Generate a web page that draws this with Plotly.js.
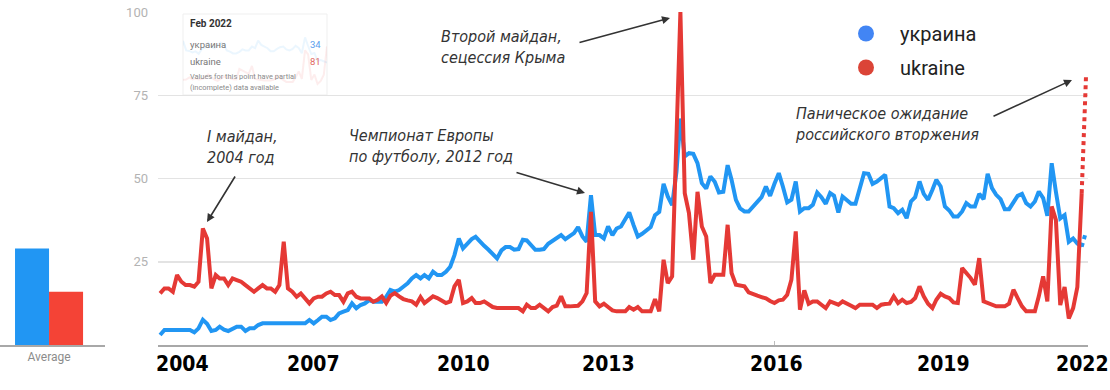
<!DOCTYPE html>
<html>
<head>
<meta charset="utf-8">
<script src="https://cdn.plot.ly/plotly-3.0.1.min.js"></script>
<style>
  html, body { margin: 0; padding: 0; background: #ffffff; }
  #chart { width: 1110px; height: 390px; }
</style>
</head>
<body>
<div id="chart"></div>
<script>
// ---------------- DATA ----------------
const startYear = 2004;            // first month: Jan 2004, monthly to Feb 2022
const seriesNames = ['украина', 'ukraine'];

const ukraina = [
  3,4.5,4.5,4.5,4.5,4.5,4.5,4.5,3.8,5,
  7.6,6.4,4.2,4.5,5.5,4.6,4.2,5,5.5,5.5,
  4.2,5,5,6,6.5,6.5,6.5,6.5,6.5,6.5,
  6.3,6.3,6.3,6.3,6.5,7.5,6.5,7.5,8.5,8.5,
  7.5,8,9.5,10,10.5,12.5,11,12,12.5,13.5,
  13,13,13,14.5,16.5,16,16.5,17.5,18.5,20,
  21,20,21,20,22,21,21,22,23.5,27,
  32,29,30.5,31.8,32.5,31,29.8,28.6,27.4,26,
  28.4,29.4,29.4,28.6,28.8,31.6,31.4,29.8,28.6,28.6,
  28.8,30.4,31.4,32,33,31.8,32.8,33.6,35.4,32.6,
  31,45,33,33,32,35.6,33,35,35.6,37.6,
  39.8,36,32.6,33.4,34.4,35.4,39,40,48.4,44.6,
  42,52,68,56.6,57.6,57.4,54.6,48.6,47,50.6,
  49,45.8,46,54,49.6,43.6,41,40.1,40.1,41.6,
  43.4,44.4,47.6,44.8,48.4,51.6,47.6,42.8,43.6,49.1,
  40.1,41.1,41.1,42.1,45.8,44.4,42.4,45.6,44.8,39.8,
  44.6,43.3,42.4,42.4,46.6,51.6,51.4,48.4,49.1,50.1,
  51.1,41.6,41.1,39.6,40.6,38.1,43.1,44.4,49.1,45.4,
  43.6,46.6,49.6,47.6,41.6,40.4,38.6,38.6,40.1,42.6,
  41.6,41.6,45.4,43.8,51.4,47.1,45.1,43.8,40.8,40.8,
  43.1,44.8,45.4,42.6,41.6,43.1,46.1,44.1,38.8,54.6,
  46,38,39,31,32,30.5,29.5,34
];

const ukraine = [
  15.5,17,17,16,21,19,18,18,17.5,19,
  35,32,17,21,20,20,18,20,19.5,19,
  18,17,16,17,18,17,17,16,18,31,
  17,16,14.5,15.5,14,12.5,14,14.5,14.5,15.5,
  16,15,15,13,15.5,16,14.5,14,14,14,
  13,13.6,14.6,12.6,14.8,15.6,14.6,13.8,13.4,13.1,
  12.1,14.4,12.6,13.6,14.6,14.1,13.3,12.6,13.1,17.6,
  19.6,12.6,13.1,14.1,12.6,12.6,13.1,12.1,11.4,11.1,
  11.1,11.1,11.1,11.1,11.1,10.1,12.1,11.1,11.1,12.1,
  11.1,10.1,11.4,11.8,14.6,11.6,11.6,11.6,11.8,13.1,
  15.6,40,13.1,11.6,12.4,11.4,10.4,10.1,10.1,10.1,
  11.4,10.6,11.4,10.1,10.1,10.1,13.8,10.1,25.6,18.6,
  20.6,58,100,45.6,39.6,25.6,46,35.6,32.6,18.6,
  21.1,21.1,21.1,36.1,21.6,18.1,17.8,17.6,15.8,15.2,
  14.8,14.4,14,13.2,12.6,13.4,13.6,15.1,19.6,34.1,
  10.6,16.4,12.4,13.1,13.1,12.1,11.1,13.1,12.6,12.1,
  13.1,12.6,11.8,11.1,12.1,12.1,12.1,12.1,11.1,12.1,
  12.3,12.4,14.6,12.6,13.6,12.6,12.9,14.1,17.6,14.6,
  12.4,11.1,13.6,15.4,14.6,14.1,12.8,12.6,23.1,21.6,
  20.1,18.1,26.1,13.1,12.6,11.8,11.6,11.6,11.6,12.4,
  16.6,14.1,11.6,10.1,10.1,10.1,14.6,20.6,13.1,41.6,
  37.6,12,17.4,8,11.1,17.4,45.6,81
];

const averageLabel = ['Average'];
const averages = [29, 16];                       // украина, ukraine

const yTickVals = [25, 50, 75, 100];
const yearLabels = ['2004', '2007', '2010', '2013', '2016', '2019', '2022'];

const tooltipTitle = 'Feb 2022';
const tooltipValues = [34, 81];
const tooltipNote = ['Values for this point have partial', '(incomplete) data available'];

const notes = [
  'I майдан,<br>2004 год',
  'Чемпионат Европы<br>по футболу, 2012 год',
  'Второй майдан,<br>сецессия Крыма',
  'Паническое ожидание<br>российского вторжения'
];

// ---------------- HELPERS ----------------
const months = ukraina.map((_, i) => {
  const y = startYear + Math.floor(i / 12);
  const m = (i % 12) + 1;
  return y + '-' + String(m).padStart(2, '0') + '-01';
});
const W = 1110, H = 390;
const px = v => v / W;            // pixel -> paper x
const py = v => 1 - v / H;        // pixel -> paper y

const BLUE = '#2196f3', RED = '#e53935';
const LBLUE = '#4285f4', LRED = '#db4437';
const last = ukraina.length - 1;

// ---------------- TRACES ----------------
const traces = [
  { x: months.slice(0, last), y: ukraina.slice(0, last), type: 'scatter', mode: 'lines',
    line: { color: BLUE, width: 4 }, xaxis: 'x', yaxis: 'y', showlegend: false, hoverinfo: 'skip' },
  { x: months.slice(last - 1), y: ukraina.slice(last - 1), type: 'scatter', mode: 'lines',
    line: { color: BLUE, width: 4, dash: 'dot' }, xaxis: 'x', yaxis: 'y', showlegend: false, hoverinfo: 'skip' },
  { x: months.slice(0, last), y: ukraine.slice(0, last), type: 'scatter', mode: 'lines',
    line: { color: RED, width: 4 }, xaxis: 'x', yaxis: 'y', showlegend: false, hoverinfo: 'skip' },
  { x: months.slice(last - 1), y: ukraine.slice(last - 1), type: 'scatter', mode: 'lines',
    line: { color: RED, width: 4, dash: 'dot' }, xaxis: 'x', yaxis: 'y', showlegend: false, hoverinfo: 'skip' },

  { x: averageLabel, y: [averages[0]], type: 'bar', marker: { color: '#2196f3' },
    xaxis: 'x2', yaxis: 'y2', showlegend: false, hoverinfo: 'skip' },
  { x: averageLabel, y: [averages[1]], type: 'bar', marker: { color: '#f44336' },
    xaxis: 'x2', yaxis: 'y2', showlegend: false, hoverinfo: 'skip' },

  // faint sparkline behind the tooltip
  { x: months.slice(170, last), y: ukraina.slice(170, last), type: 'scatter', mode: 'lines',
    line: { color: BLUE, width: 2 }, opacity: 0.09, xaxis: 'x3', yaxis: 'y3', showlegend: false, hoverinfo: 'skip' },
  { x: months.slice(170, last), y: ukraine.slice(170, last), type: 'scatter', mode: 'lines',
    line: { color: RED, width: 2 }, opacity: 0.09, xaxis: 'x3', yaxis: 'y3', showlegend: false, hoverinfo: 'skip' },

  // legend entries
  { x: [null], y: [null], type: 'scatter', mode: 'markers', name: seriesNames[0],
    marker: { color: LBLUE, size: 17 }, legendgroup: 'a', xaxis: 'x', yaxis: 'y' },
  { x: [null], y: [null], type: 'scatter', mode: 'markers', name: seriesNames[1],
    marker: { color: LRED, size: 17 }, legendgroup: 'b', xaxis: 'x', yaxis: 'y' }
];

// ---------------- LAYOUT ----------------
const noteFont = { family: 'DejaVu Sans Condensed, DejaVu Sans, sans-serif', size: 16, color: '#333333' };
const yearFont = { family: 'DejaVu Sans Condensed, sans-serif', size: 21, color: '#000000' };
const yearCenters = [182.5, 313.5, 463.5, 609, 776, 943.5, 1082.5];

const annotations = [];

yearLabels.forEach((t, k) => annotations.push({
  text: '<b>' + t + '</b>', xref: 'paper', yref: 'paper', x: px(yearCenters[k]), y: py(364),
  xanchor: 'center', yanchor: 'middle', showarrow: false, font: yearFont
}));

const notePos = [[205, 147], [347, 146], [439, 47], [793, 124]];
notes.forEach((t, k) => annotations.push({
  text: '<i>' + t + '</i>', xref: 'paper', yref: 'paper', x: px(notePos[k][0]), y: py(notePos[k][1]),
  xanchor: 'left', yanchor: 'middle', align: 'left', showarrow: false, font: noteFont
}));

// arrows: [head x, head y, tail x, tail y] in pixels
const arrows = [[207, 222, 236, 175], [585, 193, 515, 172], [670, 18, 578, 43], [1072, 80, 992, 117]];
arrows.forEach(a => annotations.push({
  text: '', xref: 'paper', yref: 'paper', x: px(a[0]), y: py(a[1]),
  ax: a[2] - a[0], ay: a[3] - a[1], axref: 'pixel', ayref: 'pixel',
  showarrow: true, arrowhead: 2, arrowsize: 1, arrowwidth: 1.6, arrowcolor: '#333333', standoff: 0
}));

const ttFont = { family: 'Roboto, Arial, sans-serif', size: 9.5, color: '#777777' };
annotations.push(
  { text: '<b>' + tooltipTitle + '</b>', xref: 'paper', yref: 'paper', x: px(188), y: py(23.5),
    xanchor: 'left', yanchor: 'middle', showarrow: false, font: { family: 'Roboto, Arial, sans-serif', size: 10, color: '#333333' } },
  { text: seriesNames[0], xref: 'paper', yref: 'paper', x: px(188), y: py(44.5),
    xanchor: 'left', yanchor: 'middle', showarrow: false, font: ttFont },
  { text: String(tooltipValues[0]), xref: 'paper', yref: 'paper', x: px(323), y: py(44.5),
    xanchor: 'right', yanchor: 'middle', showarrow: false, font: Object.assign({}, ttFont, { color: '#5c9ded' }) },
  { text: seriesNames[1], xref: 'paper', yref: 'paper', x: px(188), y: py(61),
    xanchor: 'left', yanchor: 'middle', showarrow: false, font: ttFont },
  { text: String(tooltipValues[1]), xref: 'paper', yref: 'paper', x: px(323), y: py(61),
    xanchor: 'right', yanchor: 'middle', showarrow: false, font: Object.assign({}, ttFont, { color: '#e0675e' }) },
  { text: tooltipNote[0], xref: 'paper', yref: 'paper', x: px(188), y: py(77),
    xanchor: 'left', yanchor: 'middle', showarrow: false, font: { family: 'Roboto, Arial, sans-serif', size: 7.4, color: '#8a8a8a' } },
  { text: tooltipNote[1], xref: 'paper', yref: 'paper', x: px(188), y: py(88),
    xanchor: 'left', yanchor: 'middle', showarrow: false, font: { family: 'Roboto, Arial, sans-serif', size: 7.4, color: '#8a8a8a' } }
);

const yDomain = [(H - 345) / H, (H - 12) / H];

const layout = {
  width: W, height: H,
  margin: { l: 0, r: 0, t: 0, b: 0, pad: 0 },
  paper_bgcolor: '#ffffff', plot_bgcolor: 'rgba(0,0,0,0)',
  barmode: 'group', bargap: 0.352, bargroupgap: 0,
  showlegend: true,
  legend: {
    x: px(832), y: py(14), xanchor: 'left', yanchor: 'top',
    font: { family: 'Roboto, Arial, sans-serif', size: 20, color: '#222222' },
    bgcolor: 'rgba(0,0,0,0)', borderwidth: 0, tracegroupgap: 5, itemwidth: 58,
    traceorder: 'grouped'
  },
  xaxis: {
    domain: [px(158), px(1088)], type: 'date', anchor: 'y',
    range: ['2003-12-17', '2022-02-15'],
    showgrid: false, zeroline: false, showline: true, linecolor: '#a8a8a8', linewidth: 1.5,
    ticks: 'inside', ticklen: 4, tickcolor: '#bdbdbd', tickwidth: 1,
    tickvals: ['2016-01-01'], showticklabels: false, fixedrange: true
  },
  yaxis: {
    domain: yDomain, anchor: 'x', range: [0, 100],
    tickvals: yTickVals, showgrid: true, gridcolor: '#e3e3e3', gridwidth: 1.5,
    zeroline: false, showline: false, ticks: '', ticklabelstandoff: 9,
    tickfont: { family: 'Roboto, Arial, sans-serif', size: 13, color: '#b3b3b3' }, fixedrange: true
  },
  xaxis2: {
    domain: [0, px(105)], anchor: 'y2', type: 'category', range: [-0.467, 0.533],
    showgrid: false, zeroline: false, showline: true, linecolor: '#a8a8a8', linewidth: 1.5, ticks: '',
    tickfont: { family: 'Roboto, Arial, sans-serif', size: 12, color: '#8c8c8c' }, fixedrange: true
  },
  yaxis2: {
    domain: yDomain, anchor: 'x2', range: [0, 100], visible: false, fixedrange: true
  },
  xaxis3: {
    domain: [px(183), px(327)], anchor: 'y3', type: 'date', visible: false,
    range: [months[170], months[last - 1]], fixedrange: true
  },
  yaxis3: {
    domain: [(H - 95) / H, (H - 14) / H], anchor: 'x3', range: [-3, 78], visible: false, fixedrange: true
  },
  shapes: [
    { type: 'rect', xref: 'x3 domain', yref: 'y3 domain', x0: 0, x1: 1, y0: 0, y1: 1,
      fillcolor: '#ffffff', line: { color: '#efefef', width: 1 }, layer: 'below' }
  ],
  annotations: annotations
};

Plotly.newPlot('chart', traces, layout, { staticPlot: true, displayModeBar: false });
</script>
</body>
</html>
